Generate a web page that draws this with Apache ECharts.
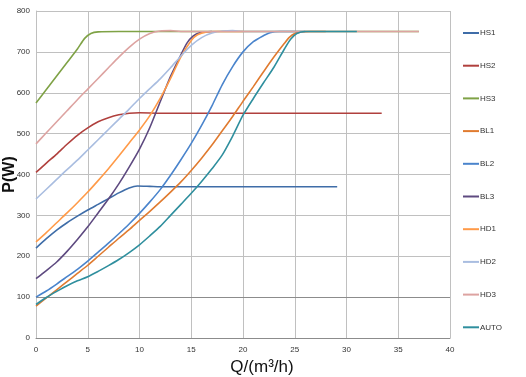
<!DOCTYPE html>
<html>
<head>
<meta charset="utf-8">
<script src="https://cdn.jsdelivr.net/npm/echarts@6/dist/echarts.min.js"></script>
<style>
  html, body { margin: 0; padding: 0; background: #fff; }
</style>
</head>
<body>
<div id="main" style="width: 526px; height: 377px;"></div>
<script>
// flow Q (m3/h) vs power P (W), one [Q, P] list per curve
var hs1 = [[0,220],[1,243],[2,264],[3,282],[4,298],[5,313],[6,327],[7,341],[8,355],[9,367],[9.8,372],[11,371],[12,370],[29.1,370]];
var hs2 = [[0,405],[1,428],[2,450],[3,474],[4,496],[5,514],[6,529],[7,539],[8,546],[9,550],[10,551],[12,550],[33.4,550]];
var hs3 = [[0,575],[1,608],[2,641],[3,674],[4,707],[4.7,733],[5.3,745],[6,749],[8,750],[37,750]];
var bl1 = [[0,78],[1,98],[2,118],[3,138],[4,158],[5,178],[6,200],[7,222],[8,244],[9,265],[10,288],[11,310],[12,333],[13,357],[14,382],[15,410],[16,440],[17,472],[18,507],[19,542],[20,579],[21,615],[22,652],[23,688],[24,721],[24.5,736],[25,745],[25.6,749],[26.5,750],[28,750]];
var bl2 = [[0,100],[1,115],[2,132],[3,150],[4,168],[5,188],[6,210],[7,232],[8,255],[9,279],[10,305],[11,333],[12,363],[13,398],[14,436],[15,476],[16,520],[17,568],[18,620],[19,664],[20,700],[21,725],[22,740],[22.6,747],[23.5,750],[26,750]];
var bl3 = [[0,145],[1,165],[2,186],[3,212],[4,241],[5,272],[6,306],[7,340],[8,377],[9,418],[10,462],[11,515],[12,578],[13,640],[14,693],[14.6,722],[15.2,739],[15.8,747],[17,750]];
var hd1 = [[0,235],[1,258],[2,282],[3,306],[4,331],[5,357],[6,385],[7,414],[8,445],[9,477],[10,509],[11,544],[12,586],[13,635],[14,688],[15,728],[15.6,742],[16.5,749],[17.5,750],[20,750]];
var hd2 = [[0,340],[1,364],[2,388],[3,412],[4,435],[5,460],[6,485],[7,510],[8,535],[9,560],[10,586],[11,610],[12,634],[13,661],[14,690],[15,716],[16,735],[17,746],[18,751],[19,752],[20,750],[25,750]];
var hd3 = [[0,475],[1,502],[2,529],[3,556],[4,583],[5,609],[6,635],[7,661],[8,687],[9,711],[10,731],[11,745],[12,751],[13,752],[14,750],[37,750]];
var auto = [[0,82],[1,99],[2,114],[3,128],[4,140],[5,150],[6,163],[7,177],[8,192],[9,209],[10,228],[11,250],[12,273],[13,300],[14,327],[15,354],[16,383],[17,414],[18,448],[19,494],[20,545],[21,586],[22,625],[23,663],[24,707],[24.6,731],[25.2,745],[26,750],[31,750]];

var names = ['HS1', 'HS2', 'HS3', 'BL1', 'BL2', 'BL3', 'HD1', 'HD2', 'HD3', 'AUTO'];
var curves = [hs1, hs2, hs3, bl1, bl2, bl3, hd1, hd2, hd3, auto];
var colors = ['#3F6DA8', '#B0403D', '#7FA246', '#E07B30', '#4A84CC', '#5E4A80', '#FF9A48', '#A9BDE0', '#DDA3A1', '#2F8F9E'];

var series = [];
for (var i = 0; i < curves.length; i++) {
  series.push({
    name: names[i],
    type: 'line',
    data: curves[i],
    smooth: 0.25,
    showSymbol: false,
    lineStyle: { width: 1.6 },
    z: 3
  });
}
// darker gridline at 100 W like the original
series[0].markLine = {
  silent: true,
  symbol: 'none',
  label: { show: false },
  lineStyle: { color: '#8C8C8C', type: 'solid', width: 1 },
  data: [{ yAxis: 100 }],
  z: 1
};

var myChart = echarts.init(document.getElementById('main'));
var option = {
  animation: false,
  color: colors,
  grid: { left: 36, right: 76, top: 11, bottom: 39, outerBoundsMode: 'none' },
  legend: {
    orient: 'vertical',
    left: 458,
    top: 23,
    icon: 'rect',
    itemWidth: 16,
    itemHeight: 2,
    itemGap: 22.7,
    textStyle: { fontSize: 8, lineHeight: 10, color: '#333', fontFamily: 'Liberation Sans', padding: [0, 0, 0, -4] },
    data: names
  },
  xAxis: {
    type: 'value',
    min: 0,
    max: 40,
    interval: 5,
    name: 'Q/(m³/h)',
    nameLocation: 'middle',
    nameGap: 18,
    nameTextStyle: { fontSize: 17, color: '#111', fontFamily: 'Liberation Sans', padding: [0, 0, 0, 38] },
    axisLine: { lineStyle: { color: '#8C8C8C' } },
    axisTick: { show: false },
    axisLabel: { fontSize: 8, color: '#333', fontFamily: 'Liberation Sans', margin: 8 },
    splitLine: { lineStyle: { color: '#C0C0C0' } }
  },
  yAxis: {
    type: 'value',
    min: 0,
    max: 800,
    interval: 100,
    name: 'P(W)',
    nameLocation: 'middle',
    nameRotate: 90,
    nameGap: 18,
    nameMoveOverlap: false,
    nameTextStyle: { fontSize: 16, fontWeight: 'bold', color: '#111', fontFamily: 'Liberation Sans' },
    axisLine: { show: true, lineStyle: { color: '#C0C0C0' } },
    axisTick: { show: false },
    axisLabel: { fontSize: 8, color: '#333', fontFamily: 'Liberation Sans', margin: 6 },
    splitLine: { lineStyle: { color: '#C0C0C0' } }
  },
  series: series
};
myChart.setOption(option);
</script>
</body>
</html>
